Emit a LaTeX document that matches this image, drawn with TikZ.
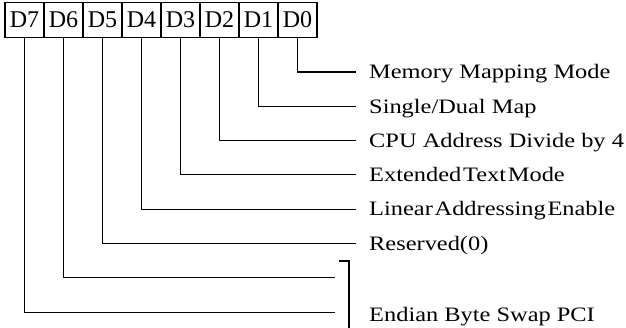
\documentclass[tikz,border=0pt]{standalone}
\usepackage{fontspec}
\setmainfont{Liberation Serif}
\usepackage{graphicx}
\newcommand{\regfont}{\fontsize{24}{26}\selectfont}
\newcommand{\lblfont}{\fontsize{20.5}{23}\selectfont}
\newcommand{\wide}[1]{\scalebox{1.19}[1]{#1}}
\tikzset{
	cell/.style={draw, line width=1.1pt, minimum width=39pt, minimum height=35.5pt, inner sep=0pt, font=\regfont},
	lead/.style={line width=1.1pt},
	lbl/.style={anchor=base west, inner sep=0pt, font=\lblfont}
}

\begin{document}
\begin{tikzpicture}[x=1pt, y=-1pt]
			\useasboundingbox (0,0) rectangle (626,328);
			\foreach \i in {0,...,7} {
				\node[cell] (b\i) at ({24.5+(7-\i)*39}, 20) {D\i};
			}
			\foreach \i in {0,...,5} {
				\coordinate (e\i) at (356, {72+34.3*\i});
				\draw[lead] (b\i.south) |- (e\i);
			}
			\foreach \i in {6,7} {
				\coordinate (e\i) at (335, {72+34.3*\i});
				\draw[lead] (b\i.south) |- (e\i);
			}
			\coordinate (t0) at (339, 261);
			\coordinate (t1) at (349, 328);
			\draw[lead] (t0) -| (t1);
			\node[lbl] (m0) at (369, 78.8) {\wide{Memory Mapping Mode}};
			\node[lbl] (m1) at (369, 113.1) {\wide{Single/Dual Map}};
			\node[lbl] (m2) at (369, 147.4) {\wide{CPU Address Divide by 4}};
			\node[lbl] (m3) at (369, 181.7) {\wide{Extended\hspace{1.5pt}Text\hspace{1.5pt}Mode}};
			\node[lbl] (m4) at (369, 216) {\wide{Linear\hspace{1.5pt}Addressing\hspace{1.5pt}Enable}};
			\node[lbl] (m5) at (369, 250.3) {\wide{Reserved(0)}};
			\node[lbl] (m7) at (369, 321.5) {\wide{Endian Byte Swap PCI}};
		\end{tikzpicture}
\end{document}
